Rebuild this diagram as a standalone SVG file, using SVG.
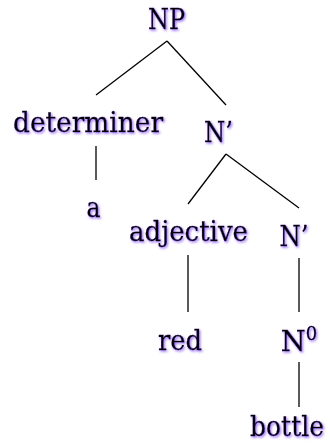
<svg xmlns="http://www.w3.org/2000/svg" width="330" height="448" viewBox="0 0 330 448">
<defs>
<filter id="glow" filterUnits="userSpaceOnUse" x="0" y="0" width="330" height="448">
<feDropShadow dx="1.2" dy="1.4" stdDeviation="1" flood-color="#8a50ff" flood-opacity="0.85"/>
</filter>
<style>
text{font-family:"DejaVu Serif","Liberation Serif",serif;font-size:28.5px;fill:#000;stroke:#000;stroke-width:0.3;text-anchor:middle;filter:url(#glow)}
.sup{font-size:18px}
#edges line{stroke:#000;stroke-width:1.3}
</style>
</defs>
<rect width="330" height="448" fill="#fff"/>
<g id="edges">
<line x1="167" y1="41" x2="96" y2="95"/>
<line x1="167" y1="41" x2="226" y2="105"/>
<line x1="96" y1="146" x2="96" y2="180"/>
<line x1="226" y1="154" x2="188" y2="204"/>
<line x1="226" y1="154" x2="299" y2="208"/>
<line x1="188" y1="255" x2="188" y2="312"/>
<line x1="299" y1="258" x2="299" y2="312"/>
<line x1="299" y1="362" x2="299" y2="407"/>
</g>
<g id="np"><text x="166.5" y="29" textLength="37" lengthAdjust="spacingAndGlyphs">NP</text></g>
<g id="determiner"><text x="88" y="132" textLength="150" lengthAdjust="spacingAndGlyphs">determiner</text></g>
<g id="nbar1"><text x="218.5" y="142" textLength="29" lengthAdjust="spacingAndGlyphs">N’</text></g>
<g id="a"><text x="93.5" y="217" textLength="14" lengthAdjust="spacingAndGlyphs">a</text></g>
<g id="adjective"><text x="188.5" y="241" textLength="119" lengthAdjust="spacingAndGlyphs">adjective</text></g>
<g id="nbar2"><text x="294" y="246" textLength="29" lengthAdjust="spacingAndGlyphs">N’</text></g>
<g id="red"><text x="180" y="350" textLength="44" lengthAdjust="spacingAndGlyphs">red</text></g>
<g id="n0"><text x="299" y="351"><tspan>N</tspan><tspan class="sup" dy="-11">0</tspan></text></g>
<g id="bottle"><text x="287" y="436" font-size="25.5" textLength="74" lengthAdjust="spacingAndGlyphs">bottle</text></g>
</svg>
